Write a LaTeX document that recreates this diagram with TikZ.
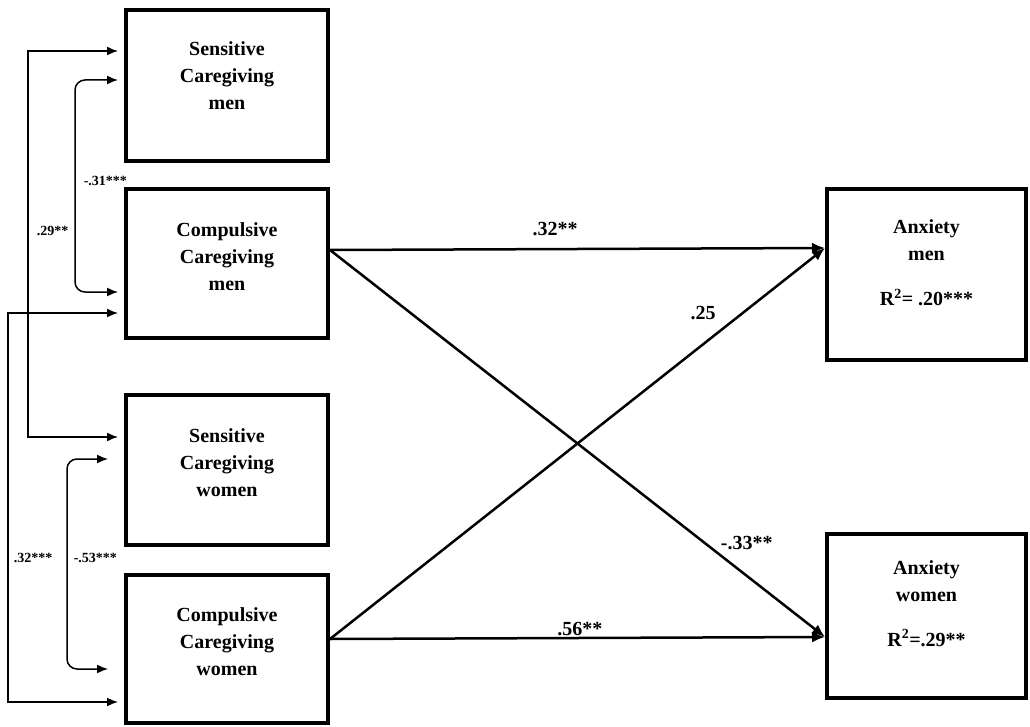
\documentclass[tikz,border=0pt]{standalone}
\usepackage{fontspec}
\setmainfont{Liberation Serif}
\usepackage{tikz}
\usetikzlibrary{arrows.meta}
\usetikzlibrary{positioning}
\tikzstyle{box}=[draw,line width=4pt,minimum width=202pt,inner sep=0pt]
\tikzstyle{boxtext}=[align=center,font=\bfseries\fontsize{20}{27}\selectfont]
\tikzstyle{coef}=[font=\bfseries\fontsize{20}{24}\selectfont,inner sep=0pt]
\tikzstyle{corr}=[font=\bfseries\fontsize{14}{16}\selectfont,inner sep=0pt]

\begin{document}
\begin{tikzpicture}[x=1pt,y=-1pt,
  effect/.style={line width=2.5pt,-{Latex[length=13pt,width=11pt]}},
  cov/.style={line width=1.5pt,{Latex[length=11pt,width=9pt]}-{Latex[length=11pt,width=9pt]}}]
\useasboundingbox (0,0) rectangle (1030,727);

\node [box,minimum height=151pt] (scm) at (227,85.5) {};
\node [box,minimum height=149pt] (ccm) at (227,263.5) {};
\node [box,minimum height=150pt] (scw) at (227,470) {};
\node [box,minimum height=148pt] (ccw) at (227,649) {};
\node [box,minimum width=199pt,minimum height=171pt] (am) at (926.5,274.5) {};
\node [box,minimum width=199pt,minimum height=164pt] (aw) at (926.5,616) {};

\node [boxtext] at ([yshift=9.5pt]scm.center) {Sensitive\\Caregiving\\men};
\node [boxtext] at ([yshift=6.5pt]ccm.center) {Compulsive\\Caregiving\\men};
\node [boxtext] at ([yshift=7pt]scw.center) {Sensitive\\Caregiving\\women};
\node [boxtext] at ([yshift=7pt]ccw.center) {Compulsive\\Caregiving\\women};
\node [boxtext] at ([yshift=11.5pt]am.center) {Anxiety\\men\\[18pt]R\textsuperscript{2}= .20***};
\node [boxtext] at ([yshift=12.5pt]aw.center) {Anxiety\\women\\[18pt]R\textsuperscript{2}=.29**};

\draw [effect] ([yshift=13.5pt]ccm.east) -- node[coef,pos=.455,yshift=20pt] {.32**} ([yshift=26.5pt]am.west);
\draw [effect] ([yshift=13.5pt]ccm.east) -- node[coef,pos=.842,yshift=33pt] {-.33**} ([yshift=-21pt]aw.west);
\draw [effect] ([yshift=10pt]ccw.east) -- node[coef,pos=.754,yshift=31pt] {.25} ([yshift=26.5pt]am.west);
\draw [effect] ([yshift=10pt]ccw.east) -- node[coef,pos=.505,yshift=9pt] {.56**} ([yshift=-21pt]aw.west);

\draw [cov] ([xshift=-6pt,yshift=34.5pt]scm.west) -- ++(-90,0)
  |- node[corr,pos=.233,right=8pt] {.29**} ([xshift=-6pt,yshift=33pt]scw.west);
\draw [cov,rounded corners=10pt] ([xshift=-6pt,yshift=5.5pt]scm.west) -- ++(-43,0)
  |- node[corr,pos=.238,right=8pt] {-.31***} ([xshift=-6pt,yshift=-28.5pt]ccm.west);
\draw [cov] ([xshift=-6pt,yshift=-49.5pt]ccm.west) -- ++(-110,0)
  |- node[corr,pos=.315,right=5pt] {.32***} ([xshift=-6pt,yshift=-53pt]ccw.west);
\draw [cov,rounded corners=10pt] ([xshift=-16pt,yshift=11pt]scw.west) -- ++(-41,0)
  |- node[corr,pos=.236,right=6pt] {-.53***} ([xshift=-16pt,yshift=-20pt]ccw.west);
\end{tikzpicture}
\end{document}
